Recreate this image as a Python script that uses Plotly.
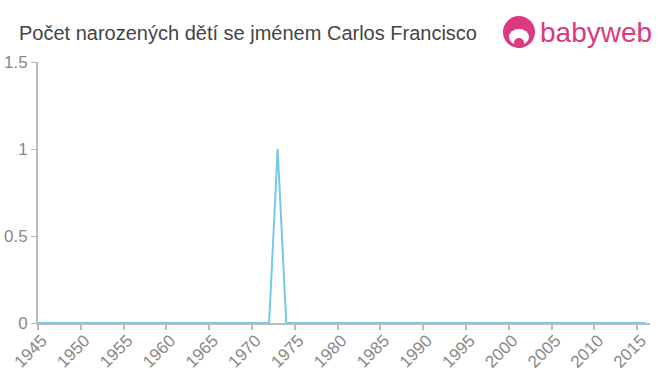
import plotly.graph_objects as go

years = list(range(1945, 2017))
counts = [0, 0, 0, 0, 0, 0, 0, 0, 0, 0,   # 1945-1954
          0, 0, 0, 0, 0, 0, 0, 0, 0, 0,   # 1955-1964
          0, 0, 0, 0, 0, 0, 0, 0, 1, 0,   # 1965-1974 (1973 = 1)
          0, 0, 0, 0, 0, 0, 0, 0, 0, 0,   # 1975-1984
          0, 0, 0, 0, 0, 0, 0, 0, 0, 0,   # 1985-1994
          0, 0, 0, 0, 0, 0, 0, 0, 0, 0,   # 1995-2004
          0, 0, 0, 0, 0, 0, 0, 0, 0, 0,   # 2005-2014
          0, 0]                            # 2015-2016
x_ticks = list(range(1945, 2016, 5))
y_ticks = [0, 0.5, 1, 1.5]
y_tick_labels = ["0", "0.5", "1", "1.5"]
title_text = "Počet narozených dětí se jménem Carlos Francisco"

fig = go.Figure()
fig.add_trace(go.Scatter(x=years, y=counts, mode="lines",
                         line=dict(color="#74C8E8", width=2),
                         hoverinfo="skip", showlegend=False))

fig.update_layout(
    width=660, height=375,
    margin=dict(l=38, r=10, t=62, b=52),
    paper_bgcolor="white", plot_bgcolor="white",
    font=dict(family="Liberation Sans, Arial, sans-serif"),
    annotations=[
        dict(text=title_text, xref="paper", yref="paper", x=-0.034, y=1.0,
             xanchor="left", yanchor="bottom", yshift=16, showarrow=False,
             font=dict(size=20, color="#444444")),
        dict(text="babyweb", xref="paper", yref="paper", x=1.007, y=1.0,
             xanchor="right", yanchor="bottom", yshift=12, showarrow=False,
             font=dict(size=28, color="#DA3A80", family="Liberation Sans, Arial, sans-serif")),
    ],
    shapes=[
        dict(type="circle", xref="paper", yref="paper", layer="above",
             x0=(503 - 38) / 612, x1=(535 - 38) / 612,
             y0=(375 - 52 - 48) / 261, y1=(375 - 52 - 16) / 261,
             fillcolor="#DA3A80", line=dict(width=0)),
        dict(type="circle", xref="paper", yref="paper", layer="above",
             x0=(509 - 38) / 612, x1=(529 - 38) / 612,
             y0=(375 - 52 - 45) / 261, y1=(375 - 52 - 29) / 261,
             fillcolor="white", line=dict(width=0)),
        dict(type="circle", xref="paper", yref="paper", layer="above",
             x0=(514 - 38) / 612, x1=(524 - 38) / 612,
             y0=(375 - 52 - 48) / 261, y1=(375 - 52 - 38) / 261,
             fillcolor="#DA3A80", line=dict(width=0)),
    ],
)

fig.update_xaxes(range=[1945, 2016.5], tickmode="array", tickvals=x_ticks,
                 tickangle=-45, ticks="outside", ticklen=5, tickwidth=2,
                 tickcolor="#BBBBBB", showline=True, linecolor="#BBBBBB",
                 linewidth=2, showgrid=False, zeroline=False, automargin=False,
                 ticklabelstandoff=-6, ticklabelshift=4,
                 tickfont=dict(size=17, color="#888888"))
fig.update_yaxes(range=[0, 1.5], tickmode="array", tickvals=y_ticks,
                 ticktext=y_tick_labels, ticks="outside", ticklen=5,
                 tickwidth=1, tickcolor="#BBBBBB", showline=True,
                 linecolor="#BBBBBB", linewidth=2, showgrid=False,
                 zeroline=False, automargin=False,
                 tickfont=dict(size=17, color="#888888"))

fig.write_html("out.html")
